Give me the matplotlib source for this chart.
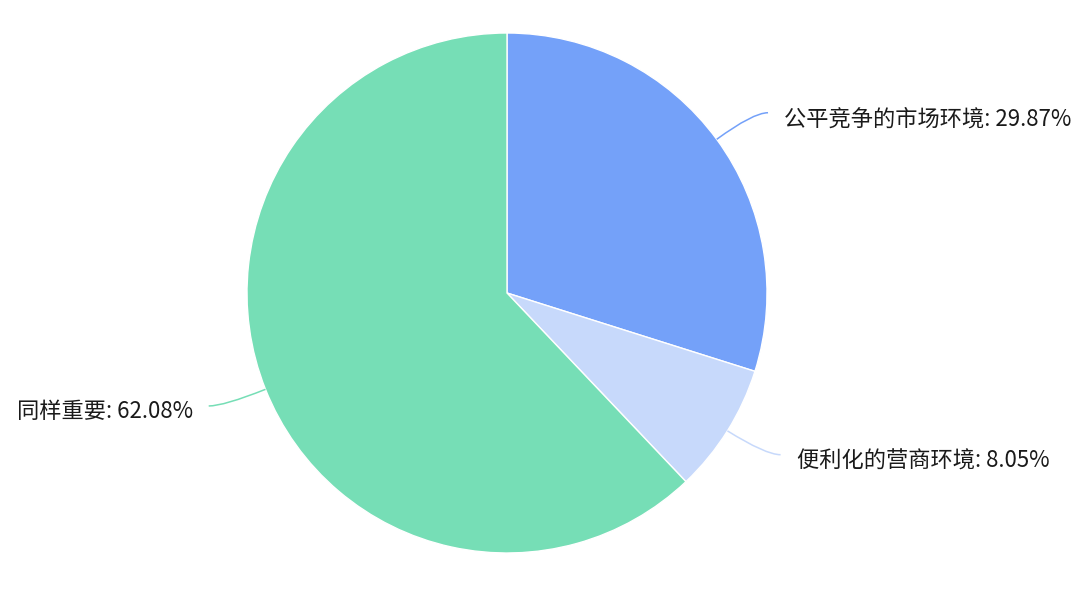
import matplotlib.pyplot as plt
import numpy as np
from matplotlib.path import Path
from matplotlib.patches import PathPatch

plt.rcParams['font.family'] = ['Noto Sans CJK SC', 'DejaVu Sans']

labels = ['公平竞争的市场环境', '便利化的营商环境', '同样重要']
values = [29.87, 8.05, 62.08]
colors = ['#74A1F9', '#C7D9FB', '#76DEB6']

W, H = 1080, 594
cx, cy, R = 507, H - 293, 260

fig = plt.figure(figsize=(W / 100, H / 100), dpi=100)
ax = fig.add_axes([0, 0, 1, 1])

wedges, _ = ax.pie(values, colors=colors, startangle=90, counterclock=False,
                   center=(cx, cy), radius=R, frame=True,
                   wedgeprops=dict(edgecolor='white', linewidth=1))
ax.set_xlim(0, W)
ax.set_ylim(0, H)
ax.set_aspect('equal')
ax.axis('off')

# curved leader lines + labels
for w, lab, val, col in zip(wedges, labels, values, colors):
    ang = np.deg2rad((w.theta1 + w.theta2) / 2)
    dx, dy = np.cos(ang), np.sin(ang)
    p0 = (cx + R * dx, cy + R * dy)
    p1 = (cx + (R + 45) * dx, cy + (R + 45) * dy)
    side = 1 if dx > 0 else -1
    p2 = (p1[0] + side * 15, p1[1])
    path = Path([p0, p1, p2], [Path.MOVETO, Path.CURVE3, Path.CURVE3])
    ax.add_patch(PathPatch(path, fill=False, edgecolor=col, linewidth=1.1))
    ax.text(p2[0] + side * 16, p2[1] - 6, f'{lab}: {val:.2f}%',
            ha='left' if side > 0 else 'right', va='center',
            fontsize=16, color='#1a1a1a')

fig.savefig('out.png', dpi=100, facecolor='white')
